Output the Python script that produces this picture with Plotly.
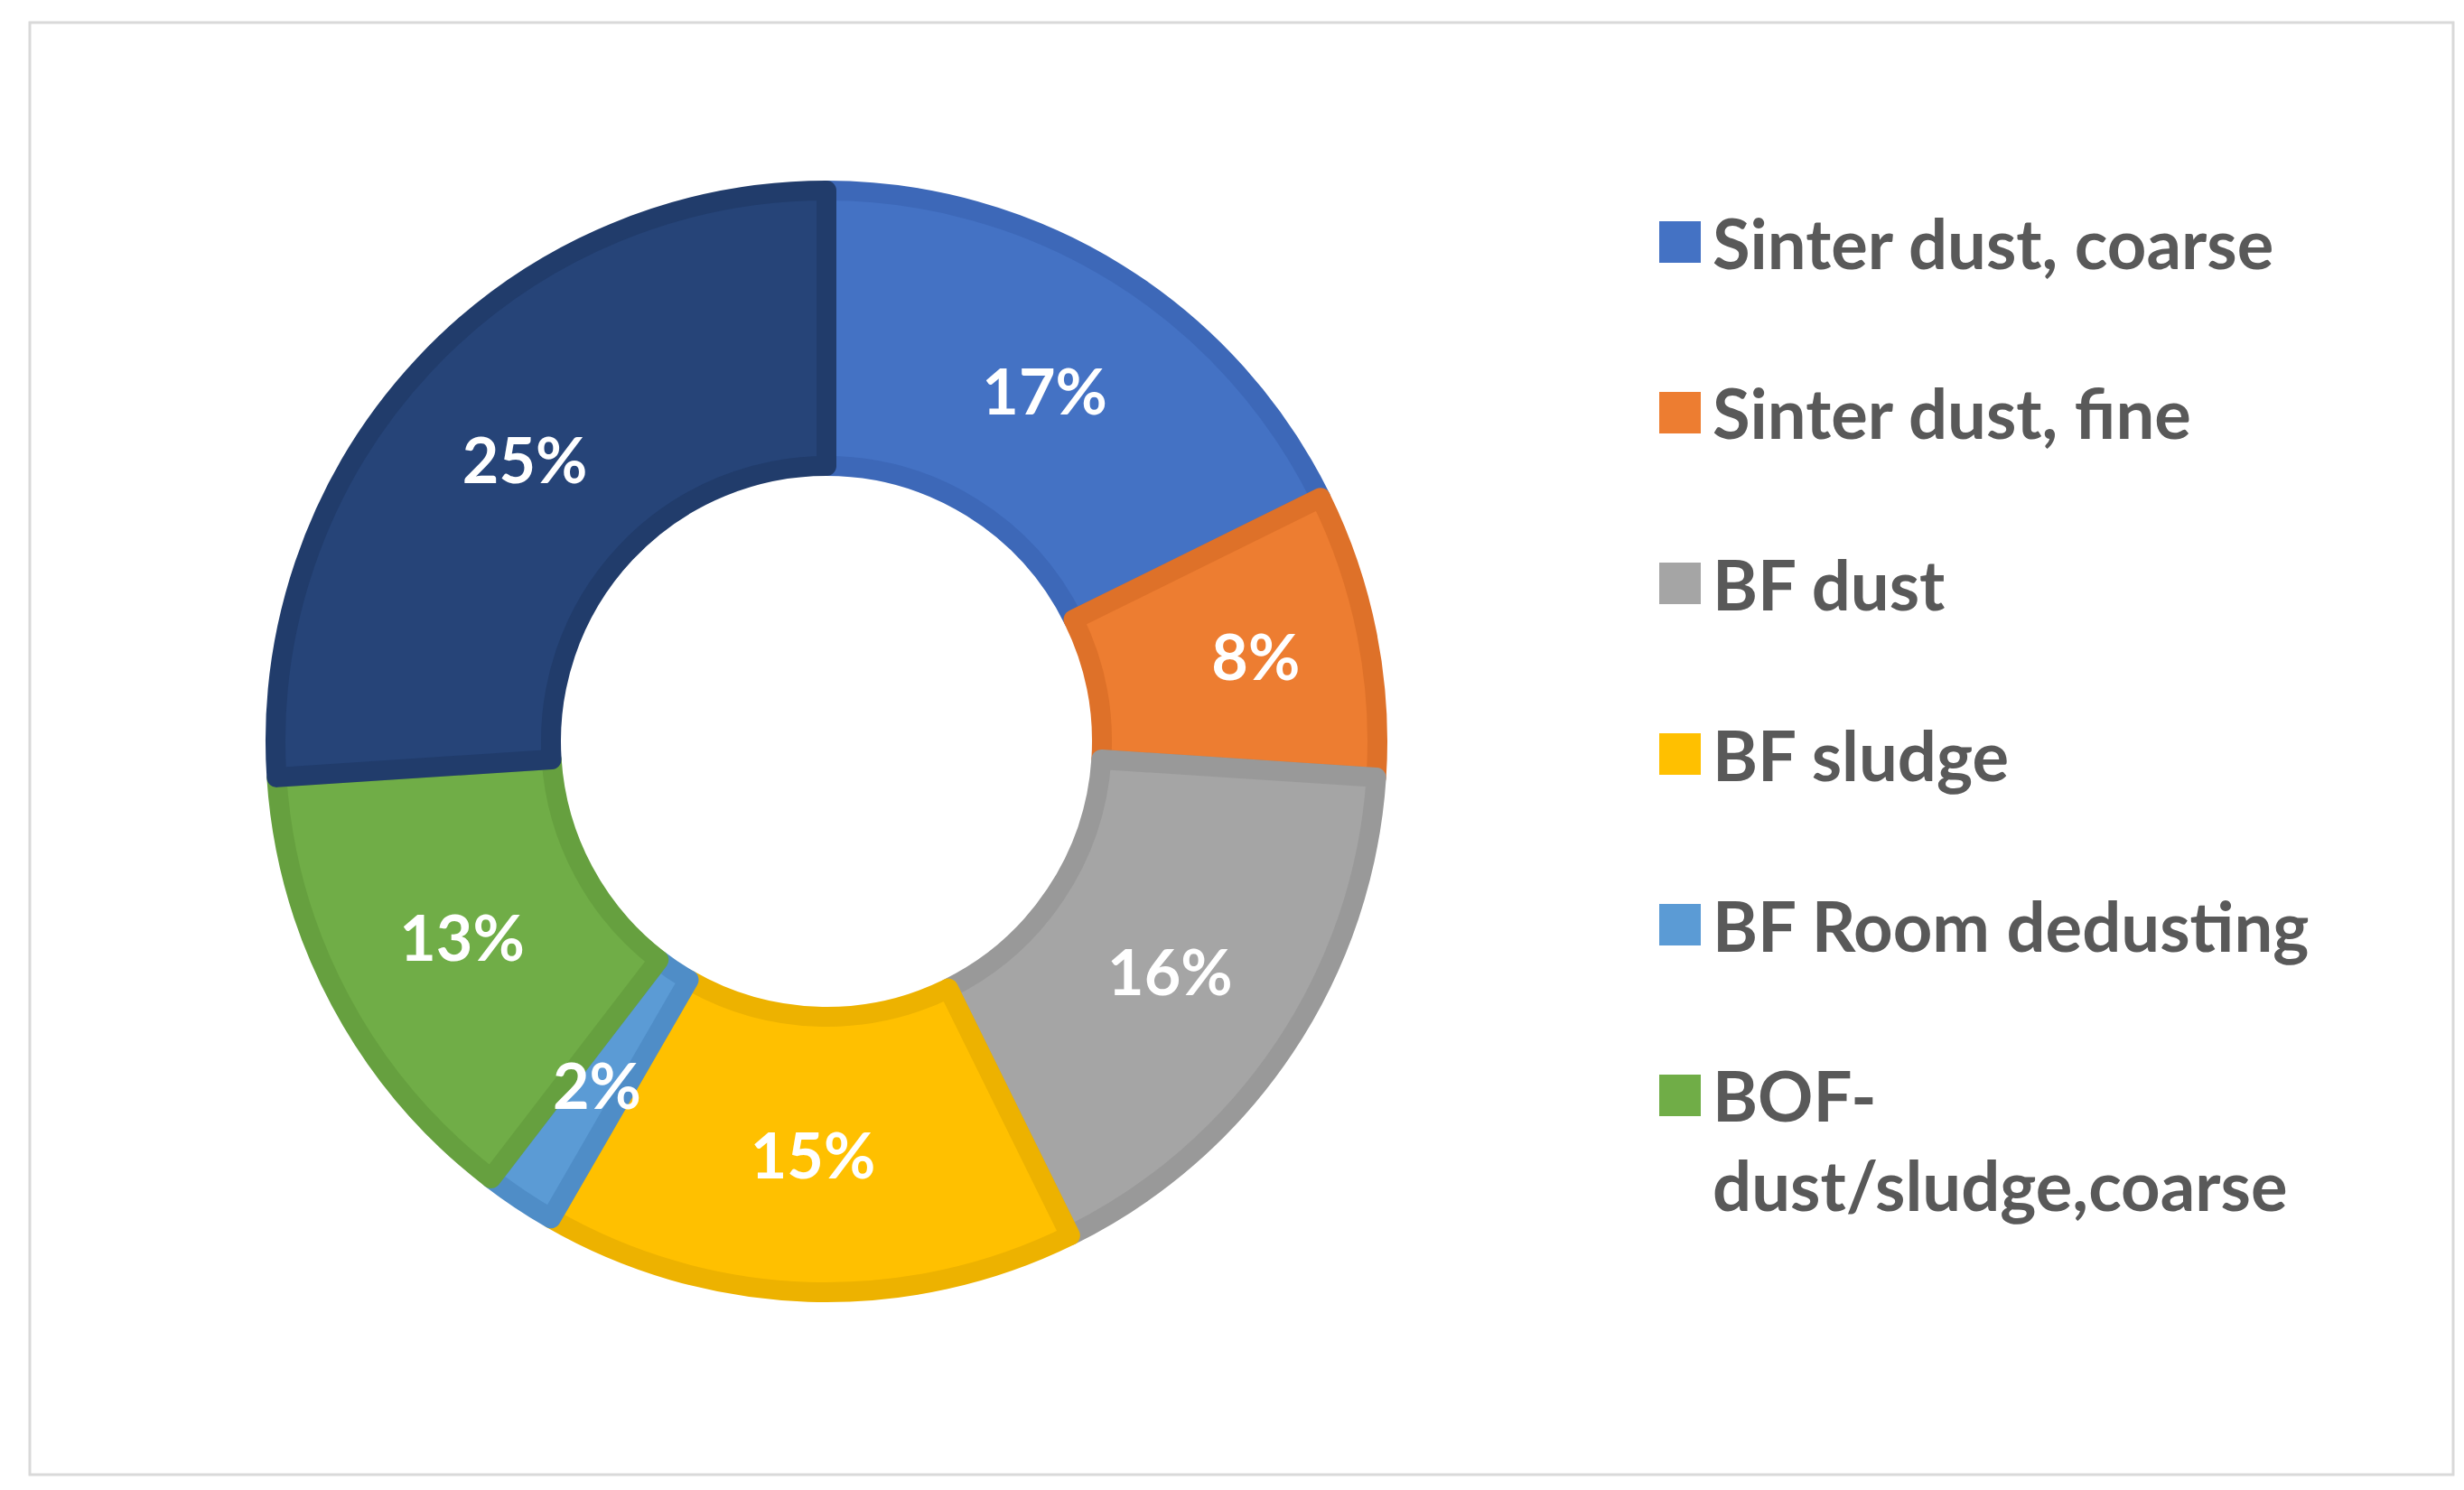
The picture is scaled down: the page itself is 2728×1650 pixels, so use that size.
import math
import plotly.graph_objects as go

W, H = 2728, 1650

# slice data, clockwise from 12 o'clock
labels = [
    "Sinter dust, coarse",
    "Sinter dust, fine",
    "BF dust",
    "BF sludge",
    "BF Room dedusting",
    "BOF-dust/sludge,coarse",
    "BOF-dust/sludge, fine",
]
values = [17, 8, 16, 15, 2, 13, 25]
fill_colors = ["#4472C4", "#ED7D31", "#A5A5A5", "#FFC000", "#5B9BD5", "#70AD47", "#264478"]
edge_colors = ["#3D68B8", "#DE7129", "#999999", "#EDB200", "#4F8DC7", "#66A03F", "#213C6B"]

# only the first six show in the original legend
legend_text = [
    "Sinter dust, coarse",
    "Sinter dust, fine",
    "BF dust",
    "BF sludge",
    "BF Room dedusting",
    "BOF-<br>dust/sludge,coarse",
]

FONT = "Lato, 'Open Sans', sans-serif"
EDGE = 22
LABEL_SIZE = 70
LEGEND_SIZE = 76
HOLE = 0.5

# donut geometry in pixels
cx, cy, r = 907, 813, 621 - EDGE / 2

# tiny slices get their label placed by hand (plotly would shrink/move it)
small = [v < 5 for v in values]
templates = ["" if s else "%{value}%" for s in small]

fig = go.Figure(go.Pie(
    labels=labels,
    values=values,
    sort=False,
    direction="clockwise",
    rotation=0,
    hole=HOLE,
    marker=dict(colors=fill_colors, line=dict(color=edge_colors, width=EDGE)),
    texttemplate=templates,
    textposition="inside",
    insidetextorientation="horizontal",
    textfont=dict(family=FONT, size=LABEL_SIZE, color="white", weight="bold"),
    domain=dict(x=[(cx - r) / W, (cx + r) / W], y=[(H - cy - r) / H, (H - cy + r) / H]),
    showlegend=False,
))

annotations = []
total = sum(values)
cum = 0
for v, s in zip(values, small):
    mid = (cum + v / 2) / total * 2 * math.pi
    cum += v
    if not s:
        continue
    rm = r * (1 + HOLE) / 2
    px_ = cx + rm * math.sin(mid)
    py_ = cy - rm * math.cos(mid)
    annotations.append(dict(
        text=f"{v}%", xref="paper", yref="paper",
        x=px_ / W, y=1 - py_ / H, xanchor="center", yanchor="middle",
        showarrow=False,
        font=dict(family=FONT, size=LABEL_SIZE, color="white", weight="bold"),
    ))

# hand-drawn legend: big squares like the original
row0, step = 260, 189
sq = 46
shapes = []
for i, txt in enumerate(legend_text):
    yc = row0 + i * step
    shapes.append(dict(
        type="rect", xref="paper", yref="paper",
        x0=1829 / W, x1=(1829 + sq) / W,
        y0=1 - (yc + sq / 2) / H, y1=1 - (yc - sq / 2) / H,
        fillcolor=fill_colors[i], line=dict(width=0),
    ))
    ymid = yc + (0.65 * LEGEND_SIZE if "<br>" in txt else 0)
    annotations.append(dict(
        text=txt, xref="paper", yref="paper",
        x=1886 / W, y=1 - ymid / H, xanchor="left", yanchor="middle",
        align="left", showarrow=False,
        font=dict(family=FONT, size=LEGEND_SIZE, color="#595959", weight="bold"),
    ))

# thin frame around the chart area
shapes.append(dict(
    type="rect", xref="paper", yref="paper",
    x0=25 / W, x1=2708 / W, y0=1 - 1625 / H, y1=1 - 17 / H,
    line=dict(color="#D9D9D9", width=3), fillcolor="rgba(0,0,0,0)",
))

fig.update_layout(
    width=W,
    height=H,
    margin=dict(l=0, r=0, t=0, b=0),
    paper_bgcolor="white",
    plot_bgcolor="white",
    uniformtext=dict(minsize=LABEL_SIZE, mode="show"),
    shapes=shapes,
    annotations=annotations,
)

fig.write_html("out.html")
